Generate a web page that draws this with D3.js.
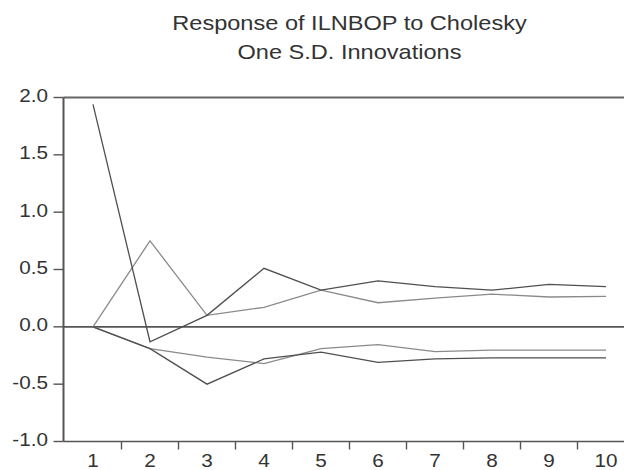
<!DOCTYPE html>
<html>
<head>
<meta charset="utf-8">
<script src="https://cdn.jsdelivr.net/npm/d3@7"></script>
<style>
  html, body { margin: 0; padding: 0; background: #fff; }
  text { font-family: "Liberation Sans", Arial, sans-serif; fill: #333; }
</style>
</head>
<body>
<svg id="chart" width="624" height="470"></svg>
<script>
// Impulse response periods (x axis tick labels)
const periods = [1, 2, 3, 4, 5, 6, 7, 8, 9, 10];
const yTicks = [-1.0, -0.5, 0.0, 0.5, 1.0, 1.5, 2.0];
const titleLines = ['Response of ILNBOP to Cholesky', 'One S.D. Innovations'];

// Responses of ILNBOP
const responseA = [1.94, -0.13, 0.10, 0.51, 0.32, 0.40, 0.35, 0.32, 0.37, 0.35];
const responseB = [0.00, 0.75, 0.10, 0.17, 0.32, 0.21, 0.25, 0.285, 0.26, 0.265];
const responseC = [0.00, -0.19, -0.50, -0.28, -0.22, -0.31, -0.28, -0.27, -0.27, -0.27];
const responseD = [0.00, -0.19, -0.265, -0.32, -0.19, -0.155, -0.217, -0.203, -0.203, -0.203];

const series = [
  { values: responseB, color: '#8a8a8a' },
  { values: responseD, color: '#8a8a8a' },
  { values: responseC, color: '#4f4f4f' },
  { values: responseA, color: '#4f4f4f' }
];

const svg = d3.select('#chart');
const stretch = 1.15; // the reference text is slightly wide

const plotLeft = 64.5, plotRight = 634.5, plotTop = 97.5, plotBottom = 441.5;

const xScale = d3.scaleBand().domain(periods).range([plotLeft, plotRight]).padding(0);
const yScale = d3.scaleLinear().domain([-1, 2]).range([plotBottom, plotTop]);
const xMid = d => xScale(d) + xScale.bandwidth() / 2;

/**
 * Writes a horizontally stretched label
 */
function label(g, x, y, str, anchor, size) {
  g.append('text')
    .attr('transform', `translate(${x},${y}) scale(${stretch},1)`)
    .attr('text-anchor', anchor)
    .style('font-size', size + 'px')
    .text(str);
}

// title
const titleG = svg.append('g');
titleLines.forEach((t, i) => label(titleG, (plotLeft + plotRight) / 2, 30 + i * 29, t, 'middle', 20.5));

// frame: top border, y axis, x axis
svg.append('line')
  .attr('x1', plotLeft - 1).attr('x2', 624).attr('y1', plotTop).attr('y2', plotTop)
  .attr('stroke', '#666').attr('stroke-width', 2);

svg.append('line')
  .attr('x1', plotLeft - 1).attr('x2', plotLeft - 1).attr('y1', plotTop).attr('y2', plotBottom)
  .attr('stroke', '#555').attr('stroke-width', 2);

svg.append('line')
  .attr('x1', plotLeft - 1).attr('x2', 624).attr('y1', plotBottom).attr('y2', plotBottom)
  .attr('stroke', '#555').attr('stroke-width', 1.6);

// y ticks and labels
const yG = svg.append('g');
yTicks.forEach(v => {
  yG.append('line')
    .attr('x1', plotLeft - 11).attr('x2', plotLeft - 1)
    .attr('y1', yScale(v)).attr('y2', yScale(v))
    .attr('stroke', '#555').attr('stroke-width', 1.4);
  label(yG, 48, yScale(v) + 4.5, v.toFixed(1), 'end', 18);
});

// x ticks at the band edges, labels at the band centres
const xG = svg.append('g');
periods.slice(1).forEach(p => {
  xG.append('line')
    .attr('x1', xScale(p)).attr('x2', xScale(p))
    .attr('y1', plotBottom).attr('y2', plotBottom + 8)
    .attr('stroke', '#555').attr('stroke-width', 1.4);
});
periods.forEach(p => label(xG, xMid(p), 467, String(p), 'middle', 18));

// zero line
svg.append('line')
  .attr('x1', plotLeft - 1).attr('x2', 624)
  .attr('y1', yScale(0)).attr('y2', yScale(0))
  .attr('stroke', '#555').attr('stroke-width', 1.6);

// response lines
const line = d3.line()
  .x((d, i) => xMid(periods[i]))
  .y(d => yScale(d));

svg.append('g')
  .selectAll('path')
  .data(series)
  .enter()
  .append('path')
  .attr('d', d => line(d.values))
  .attr('fill', 'none')
  .attr('stroke', d => d.color)
  .attr('stroke-width', 1.3);
</script>
</body>
</html>
